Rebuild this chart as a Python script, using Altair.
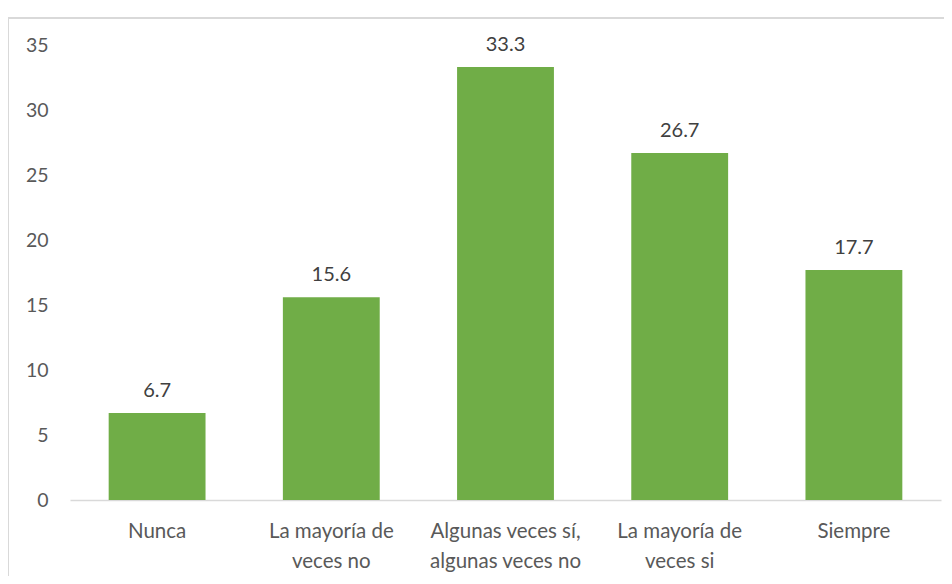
import altair as alt
import pandas as pd

categories = ["Nunca", "La mayoría de\nveces no", "Algunas veces sí,\nalgunas veces no",
              "La mayoría de\nveces si", "Siempre"]
values = [6.7, 15.6, 33.3, 26.7, 17.7]
y_ticks = [0, 5, 10, 15, 20, 25, 30, 35]

df = pd.DataFrame({"cat": categories, "val": values})
df["lbl"] = df["val"].map(lambda v: f"{v:.1f}")

FONT = "Lato"

x = alt.X("cat:N", sort=None, title=None,
          scale=alt.Scale(paddingInner=0.444, paddingOuter=0.222),
          axis=alt.Axis(labelAngle=0, labelExpr="split(datum.label, '\\n')",
                        labelFontSize=20.5, labelFont=FONT, labelColor="#595959",
                        labelLineHeight=30, labelBaseline="top", labelPadding=21,
                        ticks=False, domainColor="#d9d9d9", domainWidth=1.5))
y = alt.Y("val:Q", title=None,
          scale=alt.Scale(domain=[0, 35], nice=False),
          axis=alt.Axis(values=y_ticks, grid=False, domain=False, ticks=False,
                        labelFontSize=19.5, labelFont=FONT, labelColor="#595959",
                        labelPadding=22))

base = alt.Chart(df)
bars = base.mark_bar(color="#70AD47").encode(x=x, y=y)
text = base.mark_text(dy=-16, baseline="alphabetic", fontSize=20, font=FONT,
                      color="#404040").encode(x=x, y=y, text="lbl:N")

border = alt.Chart(alt.Data(values=[{"a": 1}])).mark_rect(
    fill=None, stroke="#d9d9d9", strokeWidth=2
).encode(x=alt.value(-62), x2=alt.value(900), y=alt.value(-27), y2=alt.value(700))

chart = alt.layer(border, bars, text).properties(
    width=871, height=455,
    autosize=alt.AutoSizeParams(type="none"),
    padding={"left": 62, "top": 37, "right": 3, "bottom": 76},
).configure_view(stroke=None)

chart.save("out.html", embed_options={"renderer": "svg", "actions": False})
